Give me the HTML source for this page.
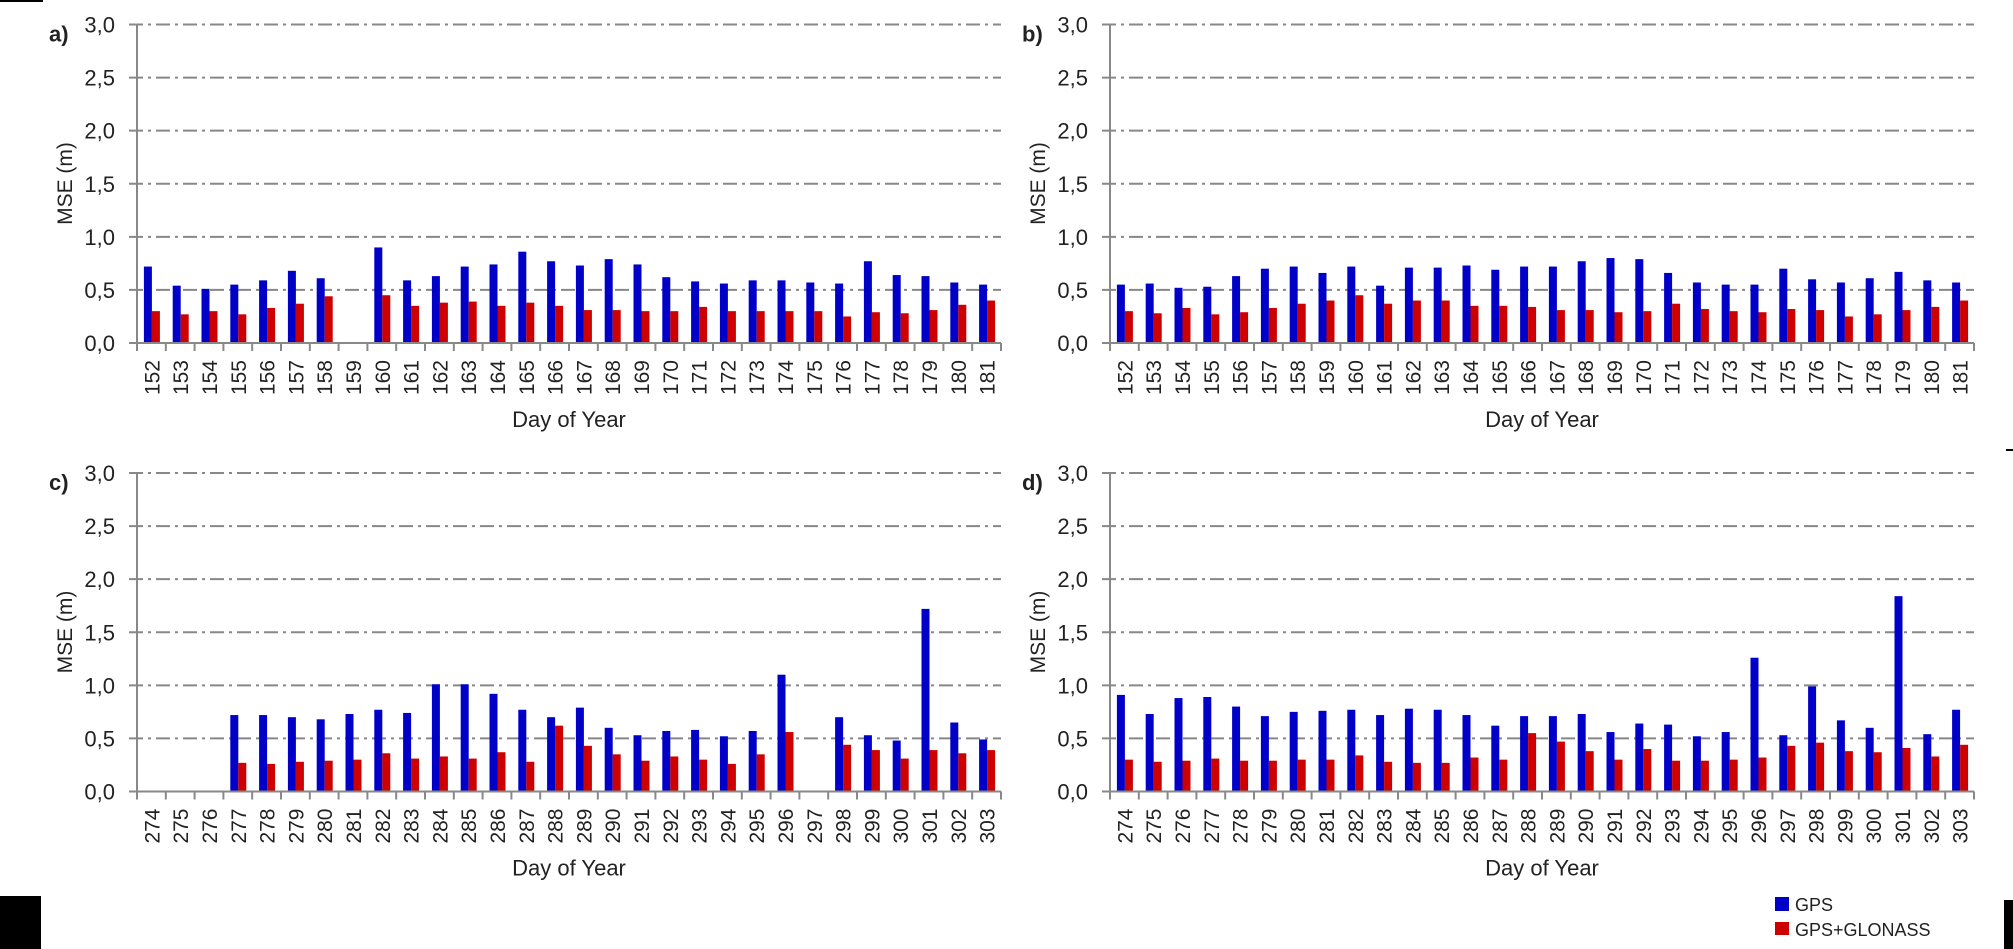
<!DOCTYPE html>
<html><head><meta charset="utf-8"><style>
html,body{margin:0;padding:0;background:#fff;width:2013px;height:949px;overflow:hidden}
svg text{font-family:"Liberation Sans",sans-serif;fill:#222}
</style></head><body>
<svg id="s" width="2013" height="949" xmlns="http://www.w3.org/2000/svg">
<rect x="0" y="0" width="43" height="2" fill="#000"/>
<rect x="0" y="896" width="41" height="53" fill="#000"/>
<rect x="2004" y="900" width="9" height="49" fill="#000"/>
<rect x="2006" y="449" width="7" height="2" fill="#000"/>
<rect x="1775" y="897" width="14" height="14" fill="#0000c8"/>
<text x="1795" y="911" font-size="18">GPS</text>
<rect x="1775" y="922" width="14" height="13" fill="#cc0000"/>
<text x="1795" y="936" font-size="18">GPS+GLONASS</text>
</svg>
<script>
const P=[
{x:137,y:24.5,lab:"a)",s:152,
g:[.72,.54,.51,.55,.59,.68,.61,0,.90,.59,.63,.72,.74,.86,.77,.73,.79,.74,.62,.58,.56,.59,.59,.57,.56,.77,.64,.63,.57,.55],
r:[.30,.27,.30,.27,.33,.37,.44,0,.45,.35,.38,.39,.35,.38,.35,.31,.31,.30,.30,.34,.30,.30,.30,.30,.25,.29,.28,.31,.36,.40]},
{x:1110,y:24.5,lab:"b)",s:152,
g:[.55,.56,.52,.53,.63,.70,.72,.66,.72,.54,.71,.71,.73,.69,.72,.72,.77,.80,.79,.66,.57,.55,.55,.70,.60,.57,.61,.67,.59,.57],
r:[.30,.28,.33,.27,.29,.33,.37,.40,.45,.37,.40,.40,.35,.35,.34,.31,.31,.29,.30,.37,.32,.30,.29,.32,.31,.25,.27,.31,.34,.40]},
{x:137,y:473,lab:"c)",s:274,
g:[0,0,0,.72,.72,.70,.68,.73,.77,.74,1.01,1.01,.92,.77,.70,.79,.60,.53,.57,.58,.52,.57,1.10,0,.70,.53,.48,1.72,.65,.49],
r:[0,0,0,.27,.26,.28,.29,.30,.36,.31,.33,.31,.37,.28,.62,.43,.35,.29,.33,.30,.26,.35,.56,0,.44,.39,.31,.39,.36,.39]},
{x:1110,y:473,lab:"d)",s:274,
g:[.91,.73,.88,.89,.80,.71,.75,.76,.77,.72,.78,.77,.72,.62,.71,.71,.73,.56,.64,.63,.52,.56,1.26,.53,.99,.67,.60,1.84,.54,.77],
r:[.30,.28,.29,.31,.29,.29,.30,.30,.34,.28,.27,.27,.32,.30,.55,.47,.38,.30,.40,.29,.29,.30,.32,.43,.46,.38,.37,.41,.33,.44]}];
let h="";const W=864,H=318.5,cw=W/30;
for(const p of P){
 const y0=p.y+H;
 for(let k=0;k<=6;k++){const yy=p.y+H*k/6;
  if(k<6)h+=`<line x1="${p.x-8}" y1="${yy}" x2="${p.x+W}" y2="${yy}" stroke="#888" stroke-width="2" stroke-dasharray="14,5,3,5"/>`;
  h+=`<text x="${p.x-22}" y="${yy+8}" font-size="22" text-anchor="end" fill="#333">${(3-k*0.5).toFixed(1).replace('.',',')}</text>`;}
 h+=`<text x="${p.x-88}" y="${p.y+17}" font-size="22" font-weight="bold" fill="#000">${p.lab}</text>`;
 h+=`<text transform="translate(${p.x-65},${p.y+159}) rotate(-90)" font-size="21" text-anchor="middle">MSE (m)</text>`;
 for(let i=0;i<30;i++){const c=p.x+cw*(i+0.5);
  if(p.g[i])h+=`<rect x="${c-7.5}" y="${y0-p.g[i]*H/3}" width="8" height="${p.g[i]*H/3}" fill="#0000c8"/>`;
  if(p.r[i])h+=`<rect x="${c+0.5}" y="${y0-p.r[i]*H/3}" width="8" height="${p.r[i]*H/3}" fill="#cc0000"/>`;
  h+=`<text transform="translate(${c+8},${y0+17}) rotate(-90)" font-size="21" text-anchor="end" fill="#333">${p.s+i}</text>`;}
 for(let i=0;i<=30;i++){const xx=p.x+cw*i;h+=`<line x1="${xx}" y1="${y0}" x2="${xx}" y2="${y0+8}" stroke="#888" stroke-width="2"/>`;}
 h+=`<line x1="${p.x}" y1="${p.y}" x2="${p.x}" y2="${y0+8}" stroke="#888" stroke-width="2"/>`;
 h+=`<line x1="${p.x-8}" y1="${y0}" x2="${p.x+W}" y2="${y0}" stroke="#888" stroke-width="2"/>`;
 h+=`<text x="${p.x+W/2}" y="${y0+84}" font-size="22" text-anchor="middle">Day of Year</text>`;
}
document.getElementById("s").insertAdjacentHTML("beforeend",h);
</script>
</body></html>
